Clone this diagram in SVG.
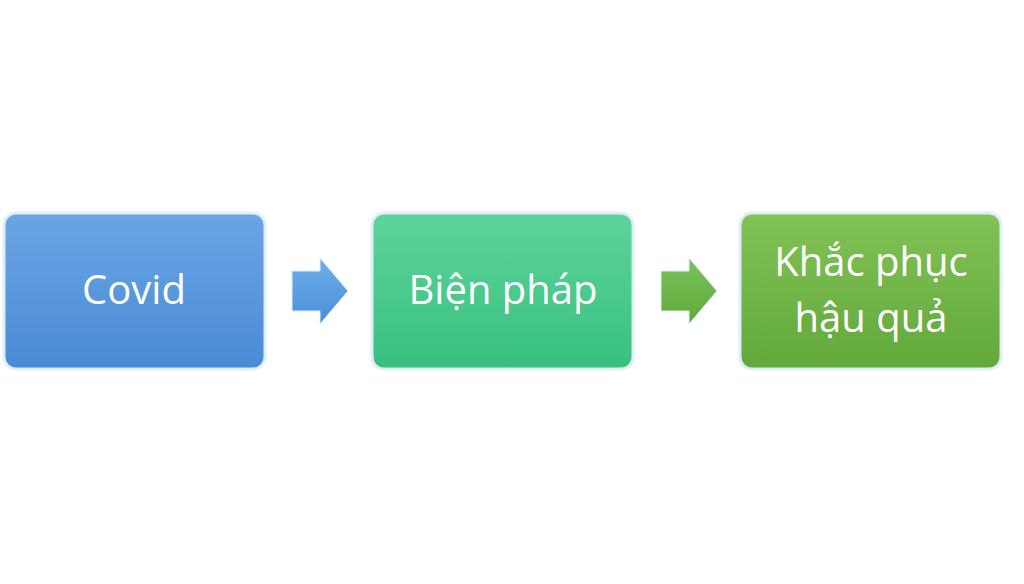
<svg xmlns="http://www.w3.org/2000/svg" width="1024" height="584" viewBox="0 0 1024 584">
<defs>
<linearGradient id="gb" x1="0" y1="0" x2="0" y2="1"><stop offset="0" stop-color="#6aa6e4"/><stop offset="1" stop-color="#4a8ad6"/></linearGradient>
<linearGradient id="gg" x1="0" y1="0" x2="0" y2="1"><stop offset="0" stop-color="#5ed49c"/><stop offset="1" stop-color="#38c07e"/></linearGradient>
<linearGradient id="gl" x1="0" y1="0" x2="0" y2="1"><stop offset="0" stop-color="#82c256"/><stop offset="1" stop-color="#62a83a"/></linearGradient>
<linearGradient id="ab" x1="0" y1="0" x2="0" y2="1"><stop offset="0" stop-color="#6fb0ea"/><stop offset="1" stop-color="#4a8ed8"/></linearGradient>
<linearGradient id="ag" x1="0" y1="0" x2="0" y2="1"><stop offset="0" stop-color="#7cc45a"/><stop offset="1" stop-color="#5ea83c"/></linearGradient>
</defs>
<style>
.box{stroke:#dfeef7;stroke-width:3}
.t{font-family:"Open Sans","Liberation Sans",sans-serif;font-size:40px;fill:#fff;text-anchor:middle}
</style>
<rect width="1024" height="584" fill="#fff"/>
<g id="n1"><rect class="box" x="4" y="213" width="261" height="156" rx="12" fill="url(#gb)"/><text class="t" x="134" y="304">Covid</text></g>
<g id="n2"><rect class="box" x="372" y="213" width="261" height="156" rx="12" fill="url(#gg)"/><text class="t" x="503" y="304">Biện pháp</text></g>
<g id="n3"><rect class="box" x="740" y="213" width="261" height="156" rx="12" fill="url(#gl)"/><text class="t" x="871" y="276">Khắc phục</text><text class="t" x="871" y="332">hậu quả</text></g>
<g id="connectors">
<path d="M292 271 H320 V258 L348 291 L320 324 V311 H292 Z" fill="url(#ab)" stroke="#dfeef7"/>
<path d="M661 271 H689 V258 L717 291 L689 324 V311 H661 Z" fill="url(#ag)" stroke="#dfeef7"/>
</g>
</svg>
